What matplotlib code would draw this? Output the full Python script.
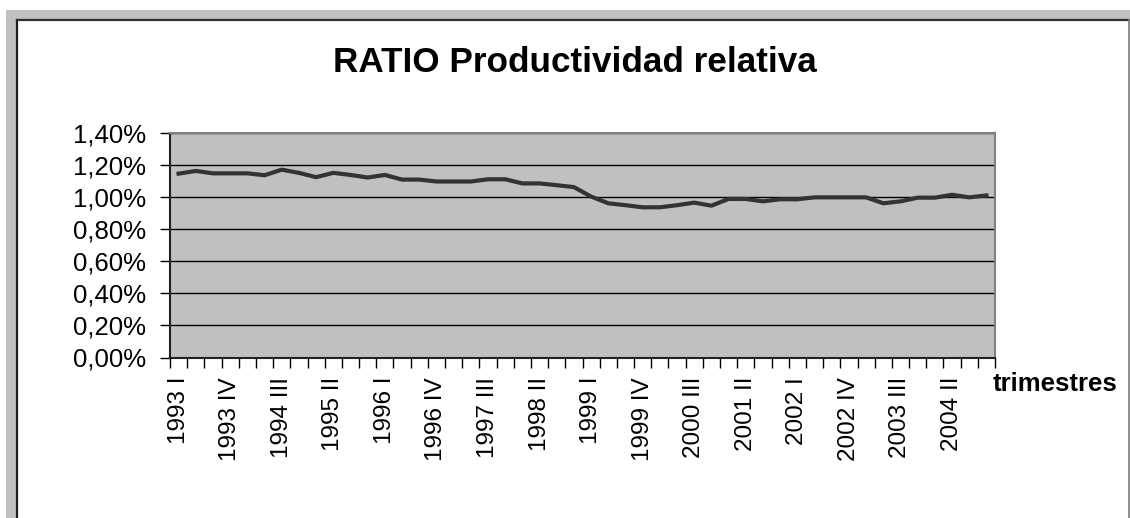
import matplotlib
matplotlib.use("Agg")
import matplotlib.pyplot as plt
from matplotlib.patches import Rectangle
from matplotlib.lines import Line2D

# ---- data ----
years = list(range(1993, 2005))
quarters = ["I", "II", "III", "IV"]
categories = [f"{y} {q}" for y in years for q in quarters]
ratio_pct = [1.148, 1.165, 1.150, 1.150, 1.150, 1.138, 1.173, 1.153,
             1.126, 1.153, 1.140, 1.124, 1.140, 1.111, 1.111, 1.099,
             1.099, 1.099, 1.113, 1.113, 1.087, 1.087, 1.076, 1.064,
             1.005, 0.963, 0.951, 0.938, 0.938, 0.951, 0.967, 0.948,
             0.990, 0.990, 0.975, 0.988, 0.988, 1.000, 1.000, 1.000,
             1.000, 0.963, 0.975, 0.998, 0.998, 1.016, 1.000, 1.012]
y_ticks = [0.0, 0.2, 0.4, 0.6, 0.8, 1.0, 1.2, 1.4]
title = "RATIO Productividad relativa"
x_title = "trimestres"

plt.rcParams['font.family'] = ['Liberation Sans', 'DejaVu Sans']

W, H = 1130, 518
fig = plt.figure(figsize=(W / 100, H / 100), dpi=100)
fig.patch.set_facecolor("white")

def fx(px):
    return px / W

def fy(py):
    return 1 - py / H

# outer gray frame and inner white chart area
fig.patches.append(Rectangle((fx(6), 0), 1, fy(10), transform=fig.transFigure,
                             facecolor="#c0c0c0", edgecolor="none", zorder=-10))
fig.patches.append(Rectangle((fx(16.5), -0.1), fx(1129) - fx(16.5), fy(19.5) + 0.1,
                             transform=fig.transFigure, facecolor="white",
                             edgecolor="none", zorder=-9))
fig.lines.append(Line2D([fx(16.5), fx(16.5)], [0, fy(19.5)], transform=fig.transFigure,
                        color="#202020", lw=1.6, zorder=-8))
fig.lines.append(Line2D([fx(16.5), fx(1129)], [fy(19.5), fy(19.5)], transform=fig.transFigure,
                        color="#303030", lw=1.6, zorder=-8))
fig.lines.append(Line2D([fx(1129), fx(1129)], [0, fy(19.5)], transform=fig.transFigure,
                        color="#808080", lw=1.2, zorder=-8))

ax = fig.add_axes([fx(170), fy(357.5), fx(995) - fx(170), fy(133.3) - fy(357.5)])
ax.set_facecolor("#c0c0c0")

n = len(categories)
xs = list(range(n))
ax.plot(xs, ratio_pct, color="#333333", lw=3.0, solid_joinstyle="round", zorder=3)

ax.set_xlim(-0.5, n - 0.5)
ax.set_ylim(0, 1.4)
ax.set_yticks(y_ticks)
ax.set_yticklabels([f"{v:.2f}%".replace(".", ",") for v in y_ticks], fontsize=18.5)
ax.yaxis.grid(True, color="black", lw=1.0)
ax.set_axisbelow(True)

# category labels every 3rd quarter, ticks at category boundaries
ax.set_xticks([i - 0.5 for i in range(n + 1)])
ax.set_xticklabels([])
ax.set_xticks(xs[::3], minor=True)
ax.set_xticklabels(categories[::3], minor=True, rotation=90, fontsize=17.5,
                   ha="center", va="top")
ax.tick_params(axis="x", which="major", length=7, width=1, direction="out", color="black")
ax.tick_params(axis="x", which="minor", length=0, pad=14)
ax.tick_params(axis="y", length=7, width=1, direction="out", color="black", pad=10)

for s in ["top", "right"]:
    ax.spines[s].set_color("#808080")
    ax.spines[s].set_linewidth(1.5)
for s in ["left", "bottom"]:
    ax.spines[s].set_color("#202020")
    ax.spines[s].set_linewidth(1.5)

fig.text(fx(575), fy(63), title, fontsize=25.3, fontweight="bold", ha="center", va="center")
fig.text(fx(1055), fy(384), x_title, fontsize=18.5, fontweight="bold", ha="center", va="center")

fig.savefig("out.png", dpi=100)
